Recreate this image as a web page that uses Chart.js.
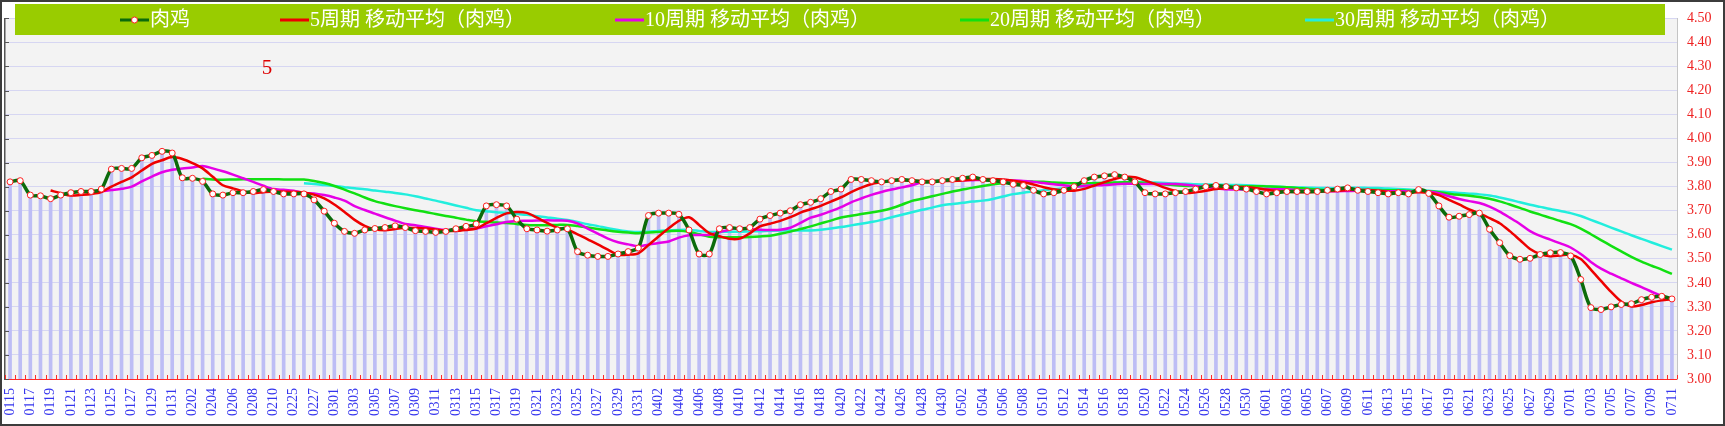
<!DOCTYPE html>
<html><head><meta charset="utf-8">
<script src="https://cdn.jsdelivr.net/npm/chart.js@4.4.0/dist/chart.umd.min.js"></script>
<style>html,body{margin:0;padding:0;background:#fff;overflow:hidden}#wrap{width:1725px;height:426px;position:relative}</style>
</head><body><div id="wrap"><canvas id="c" width="1725" height="426"></canvas></div>
<script>
const categories = [
'0115','0116','0117','0118','0119','0120','0121','0122','0123','0124','0125','0126','0127','0128','0129','0130','0131',
'0201','0202','0203','0204','0205','0206','0207','0208','0209','0210','0211','0225','0226','0227','0228',
'0301','0302','0303','0304','0305','0306','0307','0308','0309','0310','0311','0312','0313','0314','0315','0316','0317','0318','0319','0320','0321','0322','0323','0324','0325','0326','0327','0328','0329','0330','0331',
'0401','0402','0403','0404','0405','0406','0407','0408','0409','0410','0411','0412','0413','0414','0415','0416','0417','0418','0419','0420','0421','0422','0423','0424','0425','0426','0427','0428','0429','0430',
'0501','0502','0503','0504','0505','0506','0507','0508','0509','0510','0511','0512','0513','0514','0515','0516','0517','0518','0519','0520','0521','0522','0523','0524','0525','0526','0527','0528','0529','0530','0531',
'0601','0602','0603','0604','0605','0606','0607','0608','0609','0610','0611','0612','0613','0614','0615','0616','0617','0618','0619','0620','0621','0622','0623','0624','0625','0626','0627','0628','0629','0630',
'0701','0702','0703','0704','0705','0706','0707','0708','0709','0710','0711'];

const broiler = [
3.820,3.825,3.765,3.762,3.750,3.765,3.775,3.780,3.780,3.790,3.873,3.876,3.876,3.920,3.930,3.947,3.940,
3.837,3.835,3.822,3.770,3.765,3.775,3.775,3.780,3.788,3.780,3.770,3.770,3.770,3.745,3.698,
3.648,3.614,3.606,3.620,3.626,3.630,3.637,3.630,3.617,3.614,3.610,3.614,3.625,3.635,3.645,3.720,3.725,3.720,3.665,3.625,3.620,3.615,3.620,3.625,3.530,3.515,3.510,3.510,3.520,3.530,3.545,
3.680,3.690,3.690,3.685,3.620,3.520,3.520,3.625,3.630,3.625,3.630,3.665,3.680,3.690,3.700,3.725,3.735,3.750,3.780,3.790,3.830,3.830,3.825,3.820,3.825,3.830,3.825,3.820,3.820,3.825,
3.830,3.835,3.840,3.830,3.825,3.820,3.810,3.805,3.785,3.770,3.775,3.785,3.800,3.825,3.840,3.845,3.850,3.840,3.820,3.775,3.770,3.770,3.775,3.780,3.790,3.800,3.805,3.800,3.795,3.790,3.780,
3.770,3.775,3.780,3.780,3.780,3.780,3.785,3.790,3.795,3.785,3.780,3.775,3.770,3.775,3.770,3.788,3.772,3.720,3.673,3.677,3.684,3.690,3.623,3.567,3.513,3.498,3.502,3.518,3.525,3.526,
3.512,3.414,3.297,3.289,3.300,3.310,3.313,3.330,3.340,3.344,3.333];

const ma5 = [null,null,null,null,
3.784,3.773,3.763,3.766,3.770,3.778,3.800,3.820,3.839,3.867,3.895,3.910,3.923,
3.915,3.898,3.876,3.841,3.806,3.793,3.781,3.773,3.777,3.780,3.779,3.778,3.776,3.767,3.751,
3.726,3.695,3.662,3.637,3.623,3.619,3.624,3.629,3.628,3.626,3.622,3.617,3.616,3.620,3.626,3.648,3.670,3.689,3.695,3.691,3.671,3.649,3.629,3.621,3.602,3.581,3.560,3.538,3.517,3.517,3.523,
3.557,3.593,3.627,3.658,3.673,3.641,3.607,3.594,3.583,3.584,3.606,3.635,3.646,3.658,3.673,3.692,3.706,3.720,3.738,3.756,3.777,3.796,3.811,3.819,3.826,3.826,3.825,3.824,3.824,3.824,
3.824,3.826,3.830,3.832,3.832,3.830,3.825,3.818,3.809,3.798,3.789,3.784,3.783,3.791,3.805,3.819,3.832,3.840,3.839,3.826,3.811,3.795,3.782,3.774,3.777,3.783,3.790,3.795,3.798,3.798,3.794,
3.787,3.782,3.779,3.777,3.777,3.779,3.781,3.783,3.786,3.787,3.786,3.783,3.778,3.776,3.774,3.777,3.775,3.765,3.745,3.726,3.705,3.689,3.669,3.648,3.615,3.578,3.541,3.520,3.511,3.514,
3.517,3.499,3.455,3.408,3.362,3.322,3.302,3.308,3.319,3.327,3.332];

const ma10 = [null,null,null,null,null,null,null,null,null,
3.781,3.786,3.791,3.800,3.822,3.842,3.860,3.870,
3.876,3.880,3.886,3.876,3.864,3.850,3.835,3.820,3.804,3.790,3.787,3.783,3.774,3.772,3.765,
3.755,3.742,3.719,3.703,3.688,3.673,3.659,3.645,3.640,3.632,3.625,3.620,3.622,3.624,3.626,3.635,3.644,3.653,3.657,3.658,3.659,3.660,3.659,3.658,3.647,3.626,3.605,3.584,3.569,3.560,3.552,
3.559,3.566,3.572,3.588,3.598,3.599,3.600,3.611,3.621,3.629,3.624,3.621,3.620,3.621,3.629,3.649,3.671,3.683,3.698,3.715,3.735,3.751,3.766,3.778,3.788,3.797,3.806,3.818,3.822,3.824,
3.825,3.826,3.827,3.828,3.828,3.828,3.826,3.824,3.820,3.815,3.810,3.806,3.800,3.803,3.805,3.807,3.810,3.812,3.812,3.811,3.811,3.811,3.811,3.808,3.803,3.798,3.793,3.789,3.788,3.789,3.790,
3.790,3.789,3.789,3.786,3.784,3.782,3.781,3.781,3.782,3.783,3.783,3.782,3.781,3.781,3.780,3.780,3.780,3.773,3.760,3.749,3.740,3.732,3.717,3.696,3.671,3.645,3.615,3.595,3.580,3.564,
3.547,3.520,3.487,3.459,3.438,3.419,3.400,3.382,3.363,3.345,3.327];

const ma20 = [null,null,null,null,null,null,null,null,null,null,null,null,null,null,null,null,null,
null,null,3.833,3.830,3.829,3.830,3.831,3.831,3.831,3.831,3.830,3.830,3.830,3.824,3.815,
3.803,3.788,3.772,3.755,3.740,3.729,3.719,3.710,3.702,3.695,3.686,3.678,3.671,3.663,3.656,3.654,3.651,3.649,3.645,3.641,3.640,3.640,3.641,3.641,3.636,3.630,3.624,3.618,3.613,3.609,3.606,
3.609,3.612,3.615,3.617,3.612,3.602,3.592,3.590,3.590,3.590,3.591,3.593,3.596,3.604,3.613,3.624,3.635,3.647,3.659,3.672,3.679,3.686,3.693,3.700,3.710,3.725,3.741,3.750,3.760,3.770,
3.780,3.788,3.796,3.803,3.810,3.814,3.818,3.821,3.821,3.820,3.817,3.815,3.814,3.814,3.815,3.816,3.817,3.818,3.818,3.815,3.812,3.809,3.806,3.803,3.802,3.800,3.800,3.800,3.800,3.802,3.802,
3.801,3.800,3.798,3.795,3.791,3.788,3.785,3.784,3.785,3.785,3.786,3.786,3.785,3.785,3.783,3.782,3.781,3.777,3.771,3.766,3.762,3.757,3.750,3.739,3.726,3.712,3.697,3.684,3.670,3.657,
3.644,3.626,3.602,3.578,3.554,3.531,3.508,3.488,3.471,3.455,3.437];

const ma30 = [null,null,null,null,null,null,null,null,null,null,null,null,null,null,null,null,null,
null,null,null,null,null,null,null,null,null,null,null,null,3.814,3.811,3.807,
3.803,3.798,3.793,3.789,3.784,3.779,3.774,3.768,3.760,3.751,3.742,3.732,3.722,3.712,3.702,3.698,3.694,3.691,3.687,3.683,3.677,3.672,3.667,3.661,3.653,3.644,3.636,3.627,3.620,3.614,3.611,
3.613,3.616,3.618,3.620,3.620,3.616,3.612,3.612,3.613,3.613,3.614,3.615,3.617,3.618,3.618,3.618,3.618,3.621,3.626,3.632,3.639,3.646,3.653,3.662,3.673,3.683,3.694,3.704,3.713,3.723,
3.728,3.733,3.738,3.742,3.749,3.759,3.769,3.775,3.780,3.785,3.790,3.794,3.798,3.802,3.807,3.811,3.815,3.818,3.819,3.819,3.817,3.815,3.813,3.812,3.810,3.809,3.809,3.808,3.807,3.806,3.804,
3.802,3.800,3.798,3.797,3.796,3.795,3.794,3.794,3.795,3.795,3.795,3.794,3.792,3.790,3.788,3.786,3.783,3.780,3.777,3.774,3.771,3.768,3.763,3.755,3.746,3.735,3.725,3.716,3.707,3.699,
3.690,3.678,3.662,3.646,3.630,3.614,3.598,3.583,3.568,3.553,3.538];

const seriesNames = ['肉鸡','5周期 移动平均（肉鸡）','10周期 移动平均（肉鸡）','20周期 移动平均（肉鸡）','30周期 移动平均（肉鸡）'];
const seriesColors = ['#0b6b0b','#ee0000','#e600e6','#11e011','#22eedd'];
const annotationText = '5';
const yMin = 3.00, yMax = 4.50, yStep = 0.10;

const deco = {
  id: 'deco',
  beforeDraw(chart) {
    const {ctx, chartArea: a} = chart;
    ctx.save();
    ctx.fillStyle = '#ffffff';
    ctx.fillRect(0, 0, chart.width, chart.height);
    ctx.fillStyle = '#f3f3f3';
    ctx.fillRect(a.left, a.top, a.right - a.left, a.bottom - a.top);
    ctx.restore();
  },
  afterDraw(chart) {
    const {ctx, chartArea: a} = chart;
    const xs = chart.scales.x, ys = chart.scales.y;
    ctx.save();
    ctx.strokeStyle = '#ff2a2a'; ctx.lineWidth = 1;
    ctx.beginPath();
    for (let i = 0; i <= categories.length; i++) {
      const px = Math.round(xs.getPixelForValue(i - 0.5)) + 0.5;
      ctx.moveTo(px, a.bottom); ctx.lineTo(px, a.bottom - 4);
    }
    ctx.stroke();
    ctx.strokeStyle = '#555'; ctx.beginPath();
    ys.ticks.forEach(t => {
      const py = Math.round(ys.getPixelForValue(t.value)) + 0.5;
      ctx.moveTo(a.left, py); ctx.lineTo(a.left + 4, py);
    });
    ctx.stroke();
    const box = {x: 15, y: 4, w: 1650, h: 31};
    ctx.fillStyle = '#99cc00';
    ctx.fillRect(box.x, box.y, box.w, box.h);
    ctx.font = '20px "Liberation Serif", "Noto Sans CJK SC"';
    ctx.textBaseline = 'middle'; ctx.textAlign = 'left';
    const sym = 29, gap = 90;
    const widths = seriesNames.map(t => sym + 1 + ctx.measureText(t).width);
    const total = widths.reduce((s, w) => s + w, 0) + gap * (seriesNames.length - 1);
    let x = box.x + (box.w - total) / 2;
    const cy = box.y + box.h / 2 + 0.5;
    seriesNames.forEach((t, i) => {
      ctx.strokeStyle = seriesColors[i];
      ctx.lineWidth = 3;
      ctx.beginPath(); ctx.moveTo(x, cy); ctx.lineTo(x + sym, cy); ctx.stroke();
      if (i === 0) {
        ctx.beginPath(); ctx.arc(x + sym / 2, cy, 3, 0, Math.PI * 2);
        ctx.fillStyle = '#fff'; ctx.fill();
        ctx.lineWidth = 1; ctx.strokeStyle = '#ff2020'; ctx.stroke();
      }
      ctx.fillStyle = '#ffffff';
      ctx.fillText(t, x + sym + 1, cy + 1);
      x += widths[i] + gap;
    });
    ctx.fillStyle = '#dd0000';
    ctx.font = '21px "Liberation Serif"';
    ctx.textAlign = 'center';
    ctx.fillText(annotationText, 267, 68);
    ctx.strokeStyle = '#3c3c3c'; ctx.lineWidth = 2;
    ctx.strokeRect(1, 1, chart.width - 2, chart.height - 2);
    ctx.restore();
  }
};

const lineDs = (label, data, color, order) => ({
  type: 'line', label, data, borderColor: color, backgroundColor: color,
  borderWidth: 2.5, pointRadius: 0, tension: 0.3, order, yAxisID: 'y', spanGaps: false
});

new Chart(document.getElementById('c'), {
  type: 'bar',
  data: {
    labels: categories,
    datasets: [
      {type: 'line', label: seriesNames[0], data: broiler, borderColor: seriesColors[0],
       borderWidth: 3.5, tension: 0.3, pointRadius: 3, pointBackgroundColor: '#ffffff',
       pointBorderColor: '#ff2020', pointBorderWidth: 1, order: 0, yAxisID: 'y'},
      lineDs(seriesNames[1], ma5, seriesColors[1], 1),
      lineDs(seriesNames[2], ma10, seriesColors[2], 2),
      lineDs(seriesNames[3], ma20, seriesColors[3], 3),
      lineDs(seriesNames[4], ma30, seriesColors[4], 4),
      {type: 'bar', label: 'bars', data: broiler, backgroundColor: '#bdbdf5', barThickness: 3, order: 10, yAxisID: 'y'}
    ]
  },
  options: {
    responsive: false, animation: false, devicePixelRatio: 1,
    layout: {padding: {left: 3, top: 8, right: 0, bottom: 0}},
    plugins: {legend: {display: false}, tooltip: {enabled: false}},
    scales: {
      x: {
        offset: true,
        grid: {display: false, drawTicks: false},
        border: {display: true, color: '#ff2a2a', width: 1},
        ticks: {autoSkip: false, maxRotation: 90, minRotation: 90, padding: 9, color: '#3535ee',
                font: {family: '"Liberation Serif"', size: 14},
                callback: (v, i) => (i % 2 === 0 ? categories[i] : '')},
        afterFit: s => { s.height = 47; }
      },
      y: {
        position: 'right', min: yMin, max: yMax,
        grid: {color: '#d6d6f2', drawTicks: false},
        border: {display: true, color: '#c4c4c4'},
        ticks: {stepSize: yStep, padding: 10, color: '#ee2222',
                font: {family: '"Liberation Serif"', size: 14},
                callback: v => Number(v).toFixed(2)},
        afterFit: s => { s.width = 48; }
      },
      yL: {
        position: 'left', min: yMin, max: yMax,
        grid: {drawOnChartArea: false, drawTicks: false},
        border: {display: true, color: '#555555', width: 1.5},
        ticks: {display: false},
        afterFit: s => { s.width = 0; }
      }
    }
  },
  plugins: [deco]
});
</script></body></html>
